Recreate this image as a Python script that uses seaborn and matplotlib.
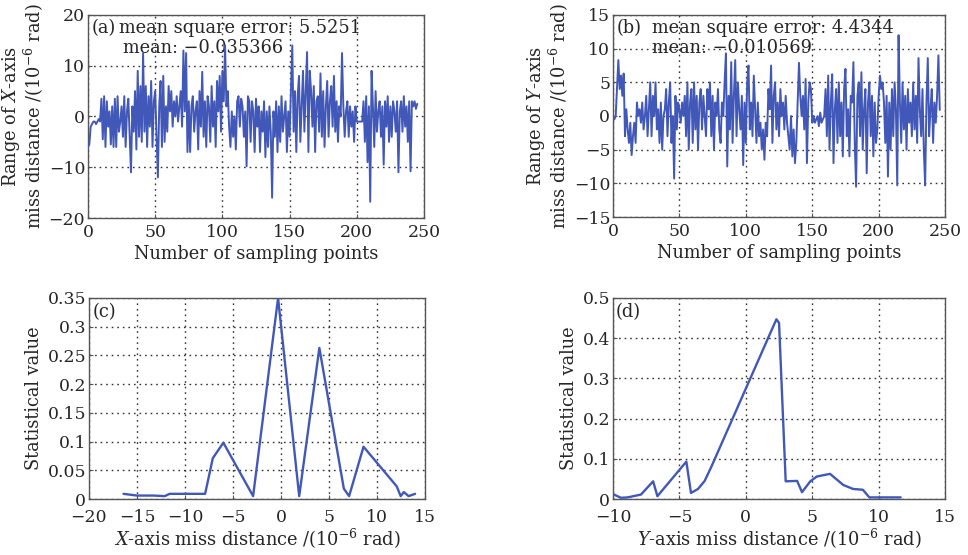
import numpy as np
import pandas as pd
import matplotlib
matplotlib.use("Agg")
import matplotlib.pyplot as plt
import seaborn as sns
from matplotlib.ticker import FuncFormatter

# ---------------- data ----------------
x_err_a = [
    -6, -5.5, -2, -1.5, -1, -1, -1.5, -1, -0.5, -1,
    3.5, -4.5, 4, -6, 3, -2, 1, -5.5, 2, -6,
    3.5, -6, 4, -3, -1, 2, -4, 4, -6, 1,
    3.5, -4, -11, 2, -3, 5, -6.5, 9, -4, 6,
    -5, 12.5, -3, 6, -6, 4, -2, 7, -6, 3,
    5, -4, -12, 2, 7, -6, 8, -5, 2, -3,
    6, 1, 5, -2, 3, 0, 4, -1, 2, 5,
    -2, 13, 1, 12.5, -7, 3, -7, 2, 4, -3,
    1, 3, -6.5, 5, -2, 8.8, -4, 3, -6, 4,
    2, -5, 6, -2, 3, -6, 7, 1, 8, -3,
    9, 3, 14, 2, 5, -2, -6, 1, -4, 0,
    -6.5, 3, 4, -2, 3.5, 2, -4, 1, -9.8, 4,
    3, -5, 3, 1, -7, 3.5, -2, 2, -7, 1,
    -3, 3, -8, 1, -6, 2, -3, -16, 1, -4,
    3, -7, 2, -5, 4, -3, 0, 3, -7, 1,
    -4, 5, 14, -3, 5, -7, 4, 8, -5, 2,
    9, -3, 5, 12.7, -7, 9, 5, -2, 6, -7,
    3, 4, -3, 8.5, -4, 5, -6, 2, 7, -4,
    3, 6, -2, 8, -3, 3, -5, 2, 0, 12.5,
    2, -4, 1, 3, -4, 2, -2, 1, -5, 2,
    -1, -1, -1, -1, -1, 3, -5, 4, -9, 2,
    -16.8, 9, 2, -6, 5, -3, 1, 3, -4, 2,
    -9.5, 3, -2, 4, -5, 2, -4, 3, 1, -3,
    3, -11, 1, 3, -3, 4, -2, 2, -5, 3,
    -10.8, 3, 2, 3, 1.5, 2.5,
]
y_err_b = [
    0, -0.5, 0, 4, 8.3, 4, 6, 3, 6.3, -3,
    1, -2, -4, -1, -5.8, -3, -1, -4, 2, 0,
    1, -1, 2, -2, 0, 3, -3, 1, 5, -3,
    3, 0, 5, -2, 1, -4, 2, -5, 0, 1,
    4, -3, 2, 5, -4, 0, -9.3, 3, -2, 2,
    1, -1, 2, 0, 3, -3, 5, -5, 2, 4,
    -4, 5, -2, 3, -5, 2, 4, -2, 3, 0,
    -3, 4, 1, 5, -3, 3, -5, 2, 0, 4,
    -2, -4, 2, 0, 5, 9.3, -7.5, 3, -2, 8,
    -4, 3, 8.3, -3, 5, 1, -2, 3, -7.3, 2,
    -4, 5, 7.5, -2, 2, -3, 6, 1, -4, 2,
    -3, -1, -5, -2, -6.5, -1, -3, 4, 1, 7.5,
    -4, 3, 5, -2, 2, -3, 4, 0, 2, -2,
    3, -1, -3, -5, 0, -6, -2, -7, -4, 2,
    7.9, 3, 0, 3, -2, 5.5, -7, 2, 5, 4,
    -1, 0, -1, -0.5, 0, -1.5, 0.5, -1, -0.5, 0,
    4, -3, 6, -5, 2, 6.2, -7, 1, 4, -4,
    5, -3, 2, -6, 4, 7, -3, 1, -6, 3,
    2, 8, -4, -10.5, 3, 5, -3, 6.5, -5, 1,
    4, -8.5, 2, 5, -3, 3, -6, 2, -4, -2,
    3, 6, 4, 5, 2, -4, 3, -9, 2, -5,
    4, -3, 5, 1, -10.3, 12, 2, -4, 5, -2,
    3, -5, 4, -1, 2, -3, 5, -2, 3, -4,
    8.6, 1, -3, 4, -5, -10.3, 2, 8.6, -3, 1,
    4, -4, 2, -1, 3, 9, 0.9,
]
hist_x_c = [-16.4, -15.0, -13.3, -12.1, -11.6, -7.9, -7.1, -6.0, -2.9, -0.3,
            1.9, 4.0, 6.55, 7.1, 8.6, 12.06, 12.47, 12.8, 13.3, 13.97]
hist_y_c = [0.009, 0.006, 0.006, 0.005, 0.009, 0.009, 0.071, 0.098, 0.005, 0.350,
            0.005, 0.263, 0.018, 0.005, 0.091, 0.022, 0.005, 0.012, 0.005, 0.009]
hist_x_d = [-10.0, -9.4, -8.9, -7.9, -6.98, -6.66, -4.48, -4.13, -3.6, -3.1, -2.6,
            2.30, 2.5, 3.0, 3.86, 4.23, 4.85, 5.35, 6.34, 7.33, 8.07, 8.81, 9.3, 11.66]
hist_y_d = [0.012, 0.003, 0.004, 0.011, 0.044, 0.007, 0.093, 0.015, 0.025, 0.045, 0.080,
            0.447, 0.438, 0.044, 0.045, 0.017, 0.044, 0.056, 0.0625, 0.035, 0.025, 0.023, 0.004, 0.004]

texts_a = ["(a)", "mean square error: 5.5251", "mean: \u22120.035366"]
texts_b = ["(b)", "mean square error: 4.4344", "mean: \u22120.010569"]

# ---------------- style ----------------
sns.set_style("ticks")
plt.rcParams['font.family'] = ['DejaVu Serif']
plt.rcParams['mathtext.fontset'] = 'dejavuserif'
plt.rcParams['axes.unicode_minus'] = True

LINE = '#4258b8'
FS = 12.8
TFS = 12.4

fig = plt.figure(figsize=(9.68, 5.55), dpi=100)
ax_a = fig.add_axes([0.0909, 0.6072, 0.3471, 0.3658])
ax_b = fig.add_axes([0.6333, 0.6090, 0.3430, 0.3640])
ax_c = fig.add_axes([0.0919, 0.1009, 0.3471, 0.3622])
ax_d = fig.add_axes([0.6333, 0.1009, 0.3430, 0.3622])

df_a = pd.DataFrame({'n': np.arange(len(x_err_a)), 'v': x_err_a})
df_b = pd.DataFrame({'n': np.arange(len(y_err_b)), 'v': y_err_b})
df_c = pd.DataFrame({'x': hist_x_c, 'y': hist_y_c})
df_d = pd.DataFrame({'x': hist_x_d, 'y': hist_y_d})

sns.lineplot(data=df_a, x='n', y='v', ax=ax_a, color=LINE, lw=1.4)
sns.lineplot(data=df_b, x='n', y='v', ax=ax_b, color=LINE, lw=1.4)
sns.lineplot(data=df_c, x='x', y='y', ax=ax_c, color=LINE, lw=1.7, sort=False)
sns.lineplot(data=df_d, x='x', y='y', ax=ax_d, color=LINE, lw=1.7, sort=False)

def fmt(v, pos):
    s = ('%g' % round(v, 6))
    return s.replace('-', '\u2212')

for ax in (ax_a, ax_b, ax_c, ax_d):
    ax.grid(True, ls=(0, (1.2, 2.8)), color='#333333', lw=1.0)
    for sp in ax.spines.values():
        sp.set_color('#555555')
        sp.set_linewidth(1.0)
        sp.set_visible(True)
    ax.tick_params(direction='in', length=3, labelsize=TFS, color='#555555')
    ax.tick_params(axis='y', pad=2)
    ax.xaxis.set_major_formatter(FuncFormatter(fmt))
    ax.yaxis.set_major_formatter(FuncFormatter(fmt))
for ax in (ax_a, ax_b):
    ax.tick_params(axis='x', pad=4)
for ax in (ax_c, ax_d):
    ax.tick_params(axis='x', pad=7.5)

ax_a.set_xlim(0, 250); ax_a.set_ylim(-20, 20)
ax_a.set_xticks([0, 50, 100, 150, 200, 250]); ax_a.set_yticks([-20, -10, 0, 10, 20])
ax_b.set_xlim(0, 250); ax_b.set_ylim(-15, 15)
ax_b.set_xticks([0, 50, 100, 150, 200, 250]); ax_b.set_yticks([-15, -10, -5, 0, 5, 10, 15])
ax_c.set_xlim(-20, 15); ax_c.set_ylim(0, 0.35)
ax_c.set_xticks(np.arange(-20, 16, 5)); ax_c.set_yticks(np.arange(0, 0.351, 0.05))
ax_d.set_xlim(-10, 15); ax_d.set_ylim(0, 0.5)
ax_d.set_xticks(np.arange(-10, 16, 5)); ax_d.set_yticks(np.arange(0, 0.51, 0.1))

ax_a.set_xlabel("Number of sampling points", fontsize=FS, labelpad=3)
ax_b.set_xlabel("Number of sampling points", fontsize=FS, labelpad=3)
ax_a.set_ylabel("Range of $X$-axis\nmiss distance /(10$^{-6}$ rad)", fontsize=FS, labelpad=2, linespacing=1.0)
ax_b.set_ylabel("Range of $Y$-axis\nmiss distance /(10$^{-6}$ rad)", fontsize=FS, labelpad=2, linespacing=1.0)
ax_c.set_ylabel("Statistical value", fontsize=FS, labelpad=3)
ax_d.set_ylabel("Statistical value", fontsize=FS, labelpad=3)
ax_c.set_xlabel("$X$-axis miss distance /(10$^{-6}$ rad)", fontsize=FS, labelpad=0.5)
ax_d.set_xlabel("$Y$-axis miss distance /(10$^{-6}$ rad)", fontsize=FS, labelpad=0.5)

def annot(ax, t, x0, x1, x2, y1=0.935, y2=0.835):
    ax.text(x0, y1, t[0], transform=ax.transAxes, fontsize=FS, va='center', ha='left', zorder=1)
    ax.text(x1, y1, t[1], transform=ax.transAxes, fontsize=FS, va='center', ha='left', zorder=1)
    ax.text(x2, y2, t[2], transform=ax.transAxes, fontsize=FS, va='center', ha='left', zorder=1)

annot(ax_a, texts_a, 0.010, 0.092, 0.104)
annot(ax_b, texts_b, 0.010, 0.118, 0.118)
ax_c.text(0.012, 0.93, "(c)", transform=ax_c.transAxes, fontsize=FS, va='center', ha='left')
ax_d.text(0.008, 0.93, "(d)", transform=ax_d.transAxes, fontsize=FS, va='center', ha='left')
for ax in (ax_a, ax_b, ax_c, ax_d):
    for ln in ax.lines:
        ln.set_zorder(3)

fig.savefig("out.png", dpi=100)
